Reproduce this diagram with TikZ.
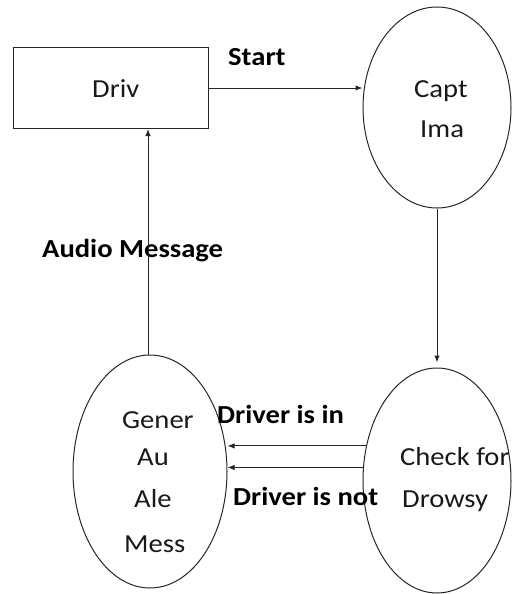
\documentclass[tikz,border=0pt]{standalone}
\usepackage{fontspec}
\setmainfont{Carlito}[FakeStretch=1.1]
\usetikzlibrary{shapes.geometric,arrows.meta}
\begin{document}
\begin{tikzpicture}[x=1pt,y=-1pt,
  line/.style={line width=1pt, draw=black!85},
  arr/.style={line, -{Latex[length=7pt,width=5.5pt]}},
  oval/.style={ellipse, line, inner sep=0pt},
  txt/.style={anchor=base west, inner sep=0pt, text=black!90, font=\fontsize{26}{30}\selectfont},
  lbl/.style={anchor=base west, inner sep=0pt, text=black, font=\fontsize{26}{30}\selectfont\bfseries}]
\useasboundingbox (0,0) rectangle (513,594);

% boxes and ovals
\node[line, rectangle, minimum width=195pt, minimum height=81pt, inner sep=0pt] (drv) at (110.5,88) {};
\node[oval, minimum width=148pt, minimum height=201pt] (capt) at (437,107.5) {};
\node[oval, minimum width=148pt, minimum height=225pt] (chk) at (437,480.5) {};
\node[oval, minimum width=154pt, minimum height=233pt] (gen) at (150,471.5) {};

% texts inside
\node[txt] (tdrv) at (92,97) {Driv};
\node[txt] (tcapt1) at (414,97) {Capt};
\node[txt] (tcapt2) at (420,137) {Ima};
\node[txt] (tchk1) at (400,465) {Check for};
\node[txt] (tchk2) at (402,507) {Drowsy};
\node[txt] (tgen1) at (122,428) {Gener};
\node[txt] (tgen2) at (137,465) {Au};
\node[txt] (tgen3) at (134,507) {Ale};
\node[txt] (tgen4) at (124,552) {Mess};

% connector labels
\node[lbl] (lstart) at (228,66) {Start};
\node[lbl] (laudio) at (42,257) {Audio Message};
\node[lbl] (lin) at (217,423) {Driver is in};
\node[lbl] (lnot) at (233,505) {Driver is not};

% connectors
\draw[arr] (drv.east) -- (drv.east -| capt.west);
\draw[arr, shorten >=5pt] (capt.south) -- (chk.north);
\draw[arr] (gen.north -| 148,0) -- (drv.south -| 148,0);
\draw[arr] (chk.154) -- (chk.154 -| gen.east);
\draw[arr] (chk.170) -- (chk.170 -| gen.east);
\end{tikzpicture}
\end{document}
